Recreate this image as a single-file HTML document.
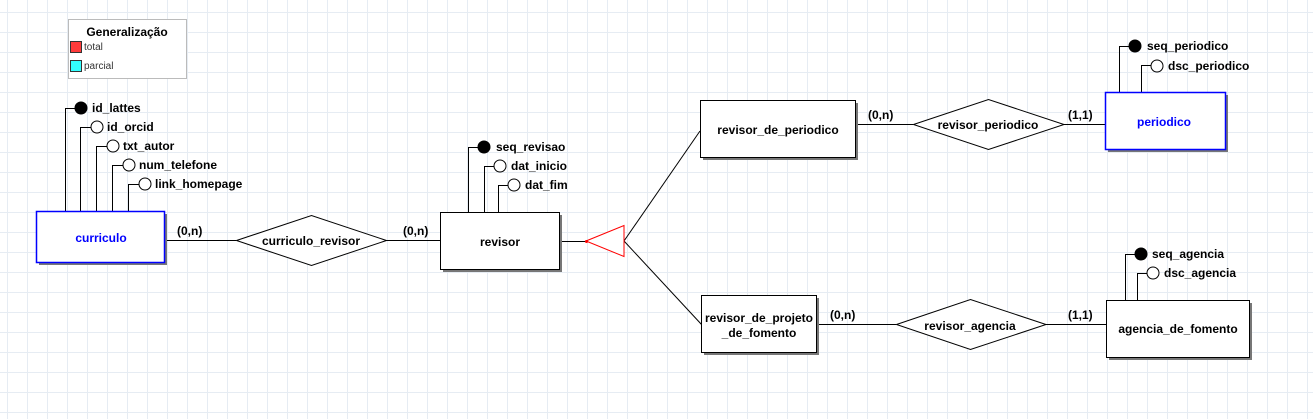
<!DOCTYPE html>
<html><head><meta charset="utf-8"><style>
html,body{margin:0;padding:0;background:#fff;}
svg{display:block;}
text{font-family:"Liberation Sans",Arial,sans-serif;font-size:12px;font-weight:bold;fill:#000;}
</style></head><body>
<svg width="1313" height="419" viewBox="0 0 1313 419" xmlns="http://www.w3.org/2000/svg">
<defs>
<pattern id="g" x="7" y="12" width="20" height="20" patternUnits="userSpaceOnUse">
<path d="M0.5 0V20M0 0.5H20" stroke="#e6ecf3" stroke-width="1" fill="none"/>
</pattern>
</defs>
<rect width="1313" height="419" fill="url(#g)"/>

<!-- legend -->
<rect x="68.5" y="19.5" width="118" height="59" fill="#fff" stroke="#bbb"/>
<text x="127" y="36" text-anchor="middle">Generalização</text>
<rect x="70.5" y="41.5" width="11" height="11" fill="#ff3b3b" stroke="#333"/>
<text x="84" y="50" style="font-weight:normal;font-size:10px;fill:#333">total</text>
<rect x="70.5" y="60.5" width="11" height="11" fill="#33ffff" stroke="#333"/>
<text x="84" y="69" style="font-weight:normal;font-size:10px;fill:#333">parcial</text>

<g stroke="#000" stroke-width="1" fill="none">
<!-- curriculo attrs -->
<path d="M65.5 211V108.5H75"/>
<path d="M80.5 211V127.5H91"/>
<path d="M96.5 211V146.5H107"/>
<path d="M112.5 211V165.5H123"/>
<path d="M128.5 211V184.5H139"/>
<!-- revisor attrs -->
<path d="M468.5 212V147.5H478"/>
<path d="M484.5 212V166.5H494"/>
<path d="M498.5 212V185.5H508"/>
<!-- periodico attrs -->
<path d="M1119.5 92V46.5H1129"/>
<path d="M1141.5 92V65.5H1151"/>
<!-- agencia attrs -->
<path d="M1125.5 300V254.5H1135"/>
<path d="M1137.5 300V273.5H1147"/>
<!-- connectors -->
<path d="M165 240.5H236"/>
<path d="M386 240.5H440"/>
<path d="M559 241.5H586"/>
<path d="M624 241L700 131"/>
<path d="M624 241L702 325"/>
<path d="M855 124.5H913"/>
<path d="M1064 124.5H1105"/>
<path d="M816 324.5H896"/>
<path d="M1046 324.5H1106"/>
</g>

<!-- circles -->
<g stroke="#000" stroke-width="1">
<circle cx="81" cy="108" r="6" fill="#000"/>
<circle cx="97" cy="127" r="6" fill="#fff"/>
<circle cx="113" cy="146" r="6" fill="#fff"/>
<circle cx="129" cy="165" r="6" fill="#fff"/>
<circle cx="145" cy="184" r="6" fill="#fff"/>
<circle cx="484" cy="147" r="6" fill="#000"/>
<circle cx="500" cy="166" r="6" fill="#fff"/>
<circle cx="514" cy="185" r="6" fill="#fff"/>
<circle cx="1135" cy="46" r="6" fill="#000"/>
<circle cx="1157" cy="66" r="6" fill="#fff"/>
<circle cx="1141" cy="254" r="6" fill="#000"/>
<circle cx="1153" cy="273" r="6" fill="#fff"/>
</g>
<text x="92" y="112">id_lattes</text>
<text x="107" y="131">id_orcid</text>
<text x="123" y="150">txt_autor</text>
<text x="139" y="169">num_telefone</text>
<text x="155" y="188">link_homepage</text>
<text x="496" y="151">seq_revisao</text>
<text x="511" y="170">dat_inicio</text>
<text x="525" y="189">dat_fim</text>
<text x="1147" y="50">seq_periodico</text>
<text x="1168" y="70">dsc_periodico</text>
<text x="1152" y="258">seq_agencia</text>
<text x="1164" y="277">dsc_agencia</text>

<!-- boxes with shadows -->
<g fill="#777">
<rect x="39" y="214" width="128" height="51"/>
<rect x="443" y="215" width="119" height="57"/>
<rect x="703" y="103" width="155" height="57"/>
<rect x="704" y="298" width="115" height="57"/>
<rect x="1108" y="95" width="120" height="57"/>
<rect x="1109" y="303" width="143" height="57"/>
</g>
<rect x="36.5" y="211.5" width="128" height="51" fill="#fff" stroke="#0000ff" stroke-width="1.5"/>
<rect x="440.5" y="212.5" width="119" height="57" fill="#fff" stroke="#000"/>
<rect x="700.5" y="100.5" width="155" height="57" fill="#fff" stroke="#000"/>
<rect x="701.5" y="295.5" width="115" height="57" fill="#fff" stroke="#000"/>
<rect x="1105.5" y="92.5" width="120" height="57" fill="#fff" stroke="#0000ff" stroke-width="1.5"/>
<rect x="1106.5" y="300.5" width="143" height="57" fill="#fff" stroke="#000"/>
<text x="101" y="242" text-anchor="middle" style="fill:#0000ff">curriculo</text>
<text x="500" y="246" text-anchor="middle">revisor</text>
<text x="778" y="134" text-anchor="middle">revisor_de_periodico</text>
<text x="759" y="322" text-anchor="middle">revisor_de_projeto</text>
<text x="759" y="337" text-anchor="middle">_de_fomento</text>
<text x="1164" y="126" text-anchor="middle" style="fill:#0000ff">periodico</text>
<text x="1178" y="333" text-anchor="middle">agencia_de_fomento</text>

<!-- diamonds -->
<g fill="#fff" stroke="#000">
<polygon points="236.5,240.5 311.5,215.5 386.5,240.5 311.5,265.5"/>
<polygon points="913.5,124.5 988.5,99.5 1064,124.5 988.5,149.5"/>
<polygon points="896.5,324.5 970.5,299.5 1046,324.5 970.5,349.5"/>
</g>
<text x="311" y="245" text-anchor="middle">curriculo_revisor</text>
<text x="988" y="129" text-anchor="middle">revisor_periodico</text>
<text x="970" y="330" text-anchor="middle">revisor_agencia</text>

<!-- triangle -->
<polygon points="586,241 624,225.5 624,256.5" fill="#fff" stroke="#ff0000" stroke-width="1"/>
<circle cx="586.5" cy="241.5" r="1.5" fill="#ff0000"/>

<!-- cardinalities -->
<text x="177" y="235">(0,n)</text>
<text x="403" y="235">(0,n)</text>
<text x="868" y="119">(0,n)</text>
<text x="1068" y="119">(1,1)</text>
<text x="830" y="319">(0,n)</text>
<text x="1068" y="319">(1,1)</text>
</svg>
</body></html>
